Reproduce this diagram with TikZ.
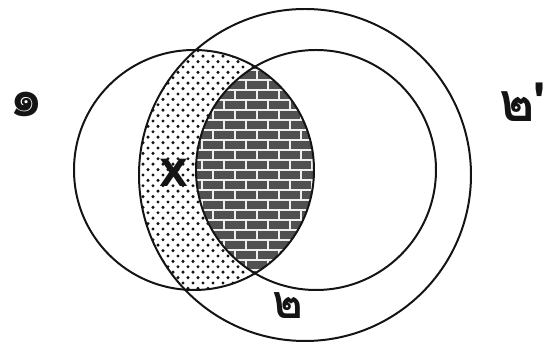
\documentclass[tikz,border=0pt]{standalone}
\usepackage{fontspec}
\newfontfamily\thaifont[Script=Thai]{Loma}
\newfontfamily\markfont{DejaVu Sans}
\definecolor{VInk}{HTML}{141414}
\definecolor{VBrick}{HTML}{505050}
\definecolor{VMortar}{HTML}{EEEEEE}
\usetikzlibrary{positioning}

\begin{document}
\begin{tikzpicture}[x=0.03cm,y=-0.03cm,
    ring/.style={draw=VInk,line width=1.7pt},
    mortar/.style={draw=VMortar,line width=1.2pt},
    setlabel/.style={font=\thaifont\bfseries\fontsize{46}{46}\selectfont,text=VInk,inner sep=0pt}]
  \useasboundingbox (0,0) rectangle (547,349);
  \coordinate (cA) at (194,170);
  \coordinate (cB) at (316,170);
  \coordinate (cU) at (305,175);
  % dotted part: in A, in U, not in B
  \begin{scope}
    \clip (cA) circle (120);
    \clip (cU) circle (166);
    \foreach \row in {0,...,50}{
      \foreach \col in {0,...,19}{
        \fill[VInk] ({128+\col*10+mod(\row,2)*5},{40+\row*5.4}) circle (1.7);
      }}
  \end{scope}
  % bricks: A and B
  \begin{scope}
    \clip (cA) circle (120);
    \clip (cB) circle (120);
    \fill[VBrick] (180,40) rectangle (320,300);
    \foreach \row in {0,...,24}{
      \draw[mortar] (180,{60+\row*10}) -- (320,{60+\row*10});
      \foreach \col in {0,...,7}{
        \draw[mortar] ({180+\col*22+mod(\row,2)*11},{60+\row*10}) -- ++(0,10);
      }}
  \end{scope}
  \draw[ring] (cA) circle (120);
  \draw[ring] (cB) circle (120);
  \draw[ring] (cU) circle (166);
  \node[font=\markfont\bfseries\fontsize{32}{32}\selectfont,text=VInk,inner sep=0pt] (mark) at (174,173) {X};
  \node[setlabel] (lblA) at (27,104) {๑};
  \node[setlabel] (lblBc) at (522,102) {๒'};
  \node[setlabel,font=\thaifont\bfseries\fontsize{40}{40}\selectfont] (lblB) at (288,306) {๒};
\end{tikzpicture}
\end{document}
